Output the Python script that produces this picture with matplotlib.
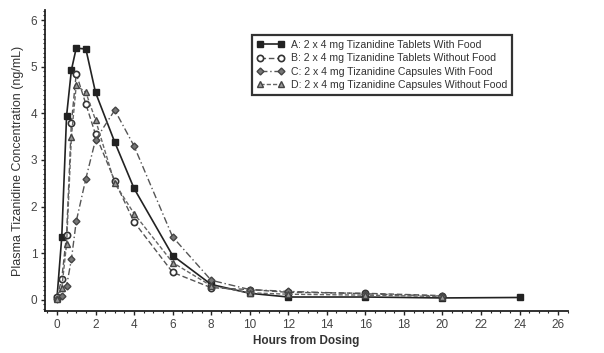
import numpy as np
import matplotlib

matplotlib.use('agg')
from matplotlib import pyplot as plt
from matplotlib.ticker import MultipleLocator

# sampling times (h)
hours = [0, 0.25, 0.5, 0.75, 1, 1.5, 2, 3, 4, 6, 8, 10, 12, 16, 20, 24]

# mean plasma concentrations (ng/mL)
conc_a = [0.03, 1.35, 3.95, 4.93, 5.40, 5.38, 4.45, 3.38, 2.39, 0.95, 0.33, 0.14, 0.06, 0.06, 0.04, 0.05]
conc_b = [0.05, 0.45, 1.40, 3.80, 4.85, 4.20, 3.55, 2.55, 1.67, 0.59, 0.26, 0.22, 0.16, 0.14, 0.09, np.nan]
conc_c = [0.02, 0.08, 0.30, 0.87, 1.68, 2.60, 3.43, 4.07, 3.30, 1.35, 0.42, 0.22, 0.18, 0.13, 0.08, np.nan]
conc_d = [0.02, 0.25, 1.20, 3.50, 4.60, 4.45, 3.86, 2.50, 1.85, 0.80, 0.30, 0.15, 0.12, 0.10, 0.07, np.nan]

labels = ['A: 2 x 4 mg Tizanidine Tablets With Food',
          'B: 2 x 4 mg Tizanidine Tablets Without Food',
          'C: 2 x 4 mg Tizanidine Capsules With Food',
          'D: 2 x 4 mg Tizanidine Capsules Without Food']

plt.rcParams['font.family'] = 'Liberation Sans'

fig = plt.figure(figsize=(6.04, 3.53), dpi=100)
ax = fig.add_axes([0.0745, 0.119, 0.8655, 0.853])

ax.plot(hours, conc_a, color='#222222', lw=1.2, ls='-', marker='s', ms=4.5,
        mfc='#222222', mec='#222222', label=labels[0])
ax.plot(hours, conc_b, color='#555555', lw=1.0, ls=(0, (4, 2)), marker='o', ms=4.5,
        mfc='white', mec='#333333', mew=1.2, label=labels[1])
ax.plot(hours, conc_c, color='#555555', lw=1.0, ls=(0, (5, 2, 1, 2)), marker='D', ms=3.5,
        mfc='#777777', mec='#444444', label=labels[2])
ax.plot(hours, conc_d, color='#666666', lw=1.0, ls=(0, (3, 1.5)), marker='^', ms=4.5,
        mfc='#999999', mec='#444444', label=labels[3])

ax.set_xlim(-0.62, 26.5)
ax.set_ylim(-0.24, 6.22)
ax.xaxis.set_major_locator(MultipleLocator(2))
ax.xaxis.set_minor_locator(MultipleLocator(0.5))
ax.yaxis.set_major_locator(MultipleLocator(1))
ax.yaxis.set_minor_locator(MultipleLocator(0.1))

for s in ['top', 'right']:
    ax.spines[s].set_visible(False)
for s in ['left', 'bottom']:
    ax.spines[s].set_linewidth(1.3)
    ax.spines[s].set_color('#222222')

ax.tick_params(which='major', direction='out', length=3, width=1, colors='#222222',
               labelsize=8.5, labelcolor='#444444', pad=2.5)
ax.tick_params(which='minor', direction='out', length=1.5, width=0.8, colors='#222222')

ax.set_xlabel('Hours from Dosing', fontsize=8.5, fontweight='bold', color='#333333', labelpad=3)
ax.set_ylabel('Plasma Tizanidine Concentration (ng/mL)', fontsize=9, color='#333333', labelpad=5)

leg = ax.legend(loc='upper left', bbox_to_anchor=(0.385, 0.935), numpoints=2,
                fontsize=7.6, handlelength=2.6, frameon=True, fancybox=False,
                borderpad=0.5, labelspacing=0.32, handletextpad=0.6)
leg.get_frame().set_edgecolor('black')
leg.get_frame().set_linewidth(1.6)
for t in leg.get_texts():
    t.set_color('#333333')

plt.savefig('out.png', dpi=100)
